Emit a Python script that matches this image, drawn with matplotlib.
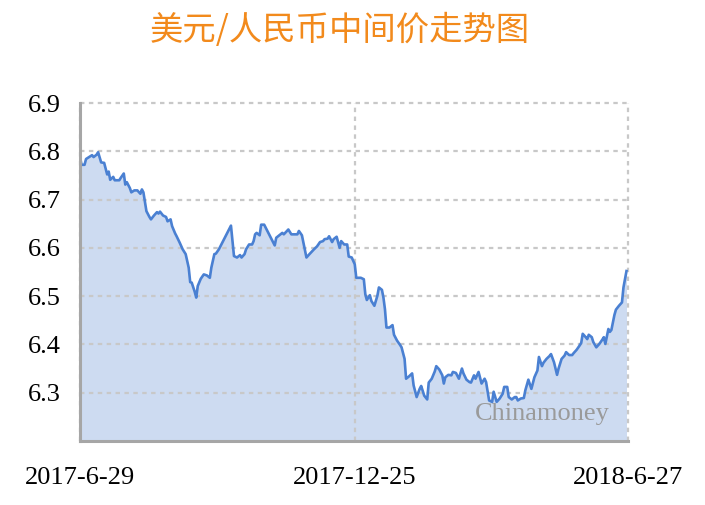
import matplotlib
matplotlib.use('Agg')
import matplotlib.pyplot as plt

# days since 2017-6-29 and the fixing value
days = [0, 1, 3, 4, 6, 8, 9, 11, 12, 14, 16, 18, 19, 20, 22, 23, 26, 27, 29, 30,
        31, 33, 34, 36, 38, 40, 41, 42, 44, 46, 47, 49, 51, 52, 53, 55, 57, 58, 60, 61,
        63, 64, 66, 68, 70, 72, 73, 74, 76, 77, 78, 80, 82, 84, 86, 87, 89, 90, 92, 100,
        102, 104, 106, 107, 109, 110, 112, 114, 115, 116, 117, 119, 120, 122, 129, 130, 132, 134, 135, 138,
        140, 144, 145, 147, 150, 152, 155, 157, 159, 161, 162, 164, 165, 167, 168, 170, 172, 173, 175, 177,
        178, 180, 182, 183, 186, 188, 189, 190, 192, 193, 195, 197, 198, 200, 201, 202, 203, 205, 207, 208,
        210, 212, 213, 215, 216, 218, 220, 221, 223, 225, 226, 228, 230, 231, 233, 235, 236, 238, 240, 241,
        242, 244, 246, 247, 249, 251, 252, 253, 254, 256, 258, 259, 261, 262, 264, 266, 268, 269, 271, 273,
        274, 276, 278, 280, 281, 283, 284, 286, 288, 289, 290, 292, 294, 295, 297, 299, 301, 303, 304, 306,
        307, 309, 311, 312, 314, 316, 317, 319, 321, 322, 324, 326, 327, 329, 331, 332, 333, 335, 336, 337,
        339, 340, 342, 344, 346, 347, 348, 350, 351, 352, 354, 355, 357, 359, 360, 362]
rates = [6.789, 6.772, 6.772, 6.784, 6.788, 6.792, 6.788, 6.793, 6.798, 6.777,
         6.776, 6.752, 6.758, 6.741, 6.747, 6.740, 6.740, 6.745, 6.754, 6.731,
         6.736, 6.724, 6.715, 6.719, 6.719, 6.712, 6.721, 6.715, 6.676, 6.664,
         6.659, 6.667, 6.674, 6.671, 6.675, 6.667, 6.664, 6.655, 6.659, 6.645,
         6.630, 6.624, 6.611, 6.597, 6.587, 6.559, 6.529, 6.528, 6.509, 6.497,
         6.521, 6.536, 6.545, 6.543, 6.538, 6.559, 6.587, 6.588, 6.597, 6.646,
         6.583, 6.580, 6.585, 6.580, 6.587, 6.597, 6.607, 6.607, 6.614, 6.628,
         6.631, 6.626, 6.648, 6.648, 6.605, 6.621, 6.626, 6.631, 6.628, 6.638,
         6.628, 6.628, 6.635, 6.626, 6.580, 6.587, 6.597, 6.603, 6.612, 6.614,
         6.618, 6.619, 6.624, 6.612, 6.618, 6.623, 6.600, 6.614, 6.607, 6.607,
         6.582, 6.580, 6.566, 6.538, 6.538, 6.535, 6.504, 6.492, 6.502, 6.490,
         6.480, 6.501, 6.518, 6.513, 6.497, 6.473, 6.435, 6.435, 6.440, 6.420,
         6.408, 6.399, 6.394, 6.370, 6.329, 6.334, 6.340, 6.315, 6.291, 6.308,
         6.314, 6.294, 6.286, 6.321, 6.329, 6.344, 6.355, 6.348, 6.336, 6.319,
         6.332, 6.337, 6.336, 6.343, 6.341, 6.329, 6.340, 6.350, 6.340, 6.327,
         6.322, 6.321, 6.336, 6.329, 6.343, 6.319, 6.329, 6.322, 6.284, 6.281,
         6.302, 6.281, 6.288, 6.298, 6.312, 6.312, 6.291, 6.286, 6.291, 6.291,
         6.284, 6.288, 6.289, 6.305, 6.327, 6.308, 6.332, 6.346, 6.374, 6.355,
         6.362, 6.370, 6.376, 6.380, 6.363, 6.337, 6.350, 6.370, 6.377, 6.384,
         6.378, 6.378, 6.382, 6.389, 6.398, 6.403, 6.422, 6.415, 6.411, 6.420,
         6.415, 6.405, 6.394, 6.401, 6.410, 6.415, 6.401, 6.432, 6.426, 6.430,
         6.461, 6.472, 6.480, 6.487, 6.518, 6.552]

tick_days = [0, 182, 363]
tick_labels = ['2017-6-29', '2017-12-25', '2018-6-27']
y_ticks = [6.3, 6.4, 6.5, 6.6, 6.7, 6.8, 6.9]

fig = plt.figure(figsize=(7.05, 5.05), dpi=100)
ax = fig.add_axes([80 / 705, 1 - 441 / 505, 548 / 705, 338 / 505])

ax.fill_between(days, rates, 6.2, color='#cddbf1', lw=0, zorder=1)
ax.plot(days, rates, color='#4a80d2', lw=1.9, zorder=3)

ax.set_xlim(0, 363)
ax.set_ylim(6.2, 6.9)
ax.set_xticks(tick_days)
ax.set_xticklabels(tick_labels, fontfamily='Liberation Serif', fontsize=19)
ax.set_yticks(y_ticks)
ax.set_yticklabels(['%.1f' % v for v in y_ticks], fontfamily='Liberation Serif', fontsize=19)
ax.tick_params(length=0)
ax.tick_params(axis='x', pad=19)
ax.tick_params(axis='y', pad=14)

ax.grid(True, color='#c8c8c8', lw=1.6, ls=(0, (2, 2)), zorder=2)
ax.set_axisbelow(False)
for gl in ax.get_xgridlines() + ax.get_ygridlines():
    gl.set_zorder(2)
    gl.set_clip_on(False)

for s in ['top', 'right']:
    ax.spines[s].set_visible(False)
for s in ['left', 'bottom']:
    ax.spines[s].set_color('#a6a6a6')
    ax.spines[s].set_linewidth(2.2)
    ax.spines[s].set_zorder(4)

ax.text(0.72, 0.08, 'Chinamoney', transform=ax.transAxes, fontfamily='Liberation Serif',
        fontsize=19, color='#9a9a9a', ha='left', va='center', zorder=5)

fig.text(340 / 705, 1 - 31 / 505, '美元/人民币中间价走势图', fontfamily=['Noto Sans CJK SC', 'DejaVu Sans'],
         fontsize=24, color='#f28a1c', ha='center', va='center')

fig.savefig('out.png', dpi=100)
